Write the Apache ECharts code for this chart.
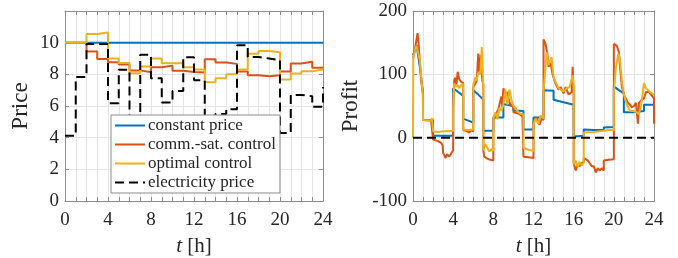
<!DOCTYPE html>
<html>
<head>
<meta charset="utf-8">
<script src="https://cdn.jsdelivr.net/npm/echarts@6/dist/echarts.min.js"></script>
<style>html,body{margin:0;padding:0;background:#fff;}#c{width:678px;height:258px;}</style>
</head>
<body>
<div id="c"></div>
<script>
// ---- Left panel: prices (hourly steps, last entry is the t=24 endpoint) ----
var hours = [0,1,2,3,4,5,6,7,8,9,10,11,12,13,14,15,16,17,18,19,20,21,22,23,24];
var constantPrice = [10,10,10,10,10,10,10,10,10,10,10,10,10,10,10,10,10,10,10,10,10,10,10,10,10];
var commSatPrice = [10,10,9.45,8.97,8.77,8.62,8.25,8.13,8.45,8.55,8.22,8.15,8.12,8.96,8.75,8.66,8.18,7.94,7.88,7.94,8.18,8.68,8.8,8.42,8.42];
var optimalPrice = [10,10,10.55,10.65,9.0,8.72,8.07,8.5,9.0,8.7,8.72,8.45,8.3,7.5,7.75,8.0,8.3,9.3,9.47,9.4,7.67,8.05,8.2,8.3,8.3];
var elecPrice = [4.12,7.83,9.92,9.92,6.17,8.29,5.0,9.23,7.75,6.22,6.94,9.08,7.63,5.3,5.5,5.8,9.84,9.1,9.0,8.9,4.3,6.7,6.62,5.96,7.2];

// ---- Right panel: profit ----
var constProfitT = [0,0.35,0.7,1, 1,2, 2,4, 4,4.5,5, 5,5.5,6, 6,6.5,7, 7,8, 8,9, 9,10, 10,11, 11,12, 12,13, 13,14, 14,15, 15,16, 16,17, 17,18, 18,19, 19,20, 20,20.5,21, 21,22, 22,23, 23,24];
var constProfitV = [130,146,110,70, 28,28, 3,3, 78,72,66, 30,27,24, 75,68,60, 11,11, 32,32, 53,50, 43,42, 13,13, 32,32, 75,74, 60,56, 54,52, 2,3, 13,12, 11,12, 16,17, 81,75,70, 40,40, 40,42, 52,52];
var commProfitT = [0,0.15,0.3,0.45,0.55,0.7,0.85,0.95,1.0, 1.0,1.8,1.95,2.0, 2.0,2.4,2.8,2.95,3.0,3.15,3.25,3.4,3.6,3.8,3.95,4.0, 4.0,4.1,4.2,4.3,4.45,4.6,4.8,5.0, 5.0,5.4,5.6,5.8,6.0, 6.0,6.2,6.35,6.5,6.6,6.75,6.9,7.0, 7.0,7.1,7.4,7.7,8.0, 8.0,8.3,8.5,8.8,8.9,9.0, 9.2,9.4,9.6,9.8,10.0, 10.0,10.5,10.9,11.0, 11.0,11.5,12.0, 12.0,12.3,12.6,12.8,13.0, 13.0,13.2,13.4,13.5,13.7,13.9,14.0, 14.2,14.5,14.7,15.0, 15.2,15.5,15.8,15.9,16.0, 16.0,16.2,16.4,16.6,16.8,17.0, 17.0,17.4,17.8,18.0, 18.2,18.4,18.6,18.8,19.0, 19.0,19.5,20.0, 20.0,20.3,20.5,20.6,20.8,21.0, 21.2,21.4,21.6,21.8,22.0, 22.2,22.4,22.5,22.8,23.0, 23.2,23.5,23.8,24.0,24.0];
var commProfitV = [125,135,150,165,150,115,85,75,70, 28,27,30,30, -3,-5,-8,-12,-24,-25,-32,-26,-30,-25,-22,-20, 45,90,95,80,104,92,88,86, 12,10,8,12,10, 80,85,90,133,100,130,90,85, -20,-30,-33,-35,-36, 30,38,45,65,48,78, 68,72,56,50,48, 40,38,34,34, -30,-31,-32, 25,32,20,30,28, 155,148,130,112,118,100,95, 85,76,80,70, 80,68,72,112,70, -40,-52,-42,-45,-40,-38, -32,-36,-45,-45, -55,-48,-52,-48,-52, -36,-35,-34, 148,145,135,115,80,68, 62,55,52,48,50, 55,22,55,60,62, 72,72,66,62,22];
var optProfitT = [0,0.03,0.2,0.35,0.5,0.7,0.85,0.97,1.0, 1.8,1.9,2.0, 2.0,2.5,3.0,3.5,4.0, 4.0,4.1,4.25,4.4,4.6,4.8,5.0, 5.0,5.5,6.0, 6.0,6.2,6.35,6.5,6.7,6.85,6.9,7.0, 7.0,7.2,7.4,7.6,7.8,8.0, 8.0,8.2,8.4,8.6,8.8,9.0, 9.2,9.4,9.6,9.8,10.0, 10.2,10.5,10.8,11.0, 11.0,11.5,12.0, 12.0,12.2,12.5,12.7,13.0, 13.0,13.2,13.3,13.5,13.8,14.0, 14.2,14.5,14.8,15.0, 15.3,15.6,15.9,16.0, 16.0,16.2,16.4,16.6,16.8,17.0, 17.0,18.0,19.0,19.5,20.0, 20.0,20.2,20.45,20.6,20.8,21.0, 21.3,21.6,22.0, 22.3,22.5,22.7,23.0, 23.2,23.6,24.0];
var optProfitV = [0,125,140,145,135,120,90,68,28, 27,31,30, 10,9,10,10,11, 47,86,80,84,78,83,85, 13,12,13, 83,95,90,104,100,143,125,78, -20,-10,-16,-22,-18,-21, 31,40,29,47,42,52, 76,52,76,60,50, 47,40,37,37, -16,-19,-21, 20,30,22,35,30, 73,110,135,115,127,95, 88,78,75,73, 78,80,99,78, -42,-36,-46,-38,-44,-40, 8,9,11,12,12, 70,110,133,125,90,68, 52,42,42, 40,37,50,86, 78,72,68];
var zeroLineT = [0,24];
var zeroLineV = [0,0];

var xTicks = [0,4,8,12,16,20,24];
var priceTicks = [0,2,4,6,8,10];
var profitTicks = [-100,0,100,200];

var FONT = 'Liberation Serif';
var TXT = '#262626';
var AX = '#8c8c8c';
var GRIDC = '#e6e6e6';
var BLUE = '#0072BD', ORANGE = '#D95319', YELLOW = '#EDB120';
var DASH = [9,5];

function pairs(xs, ys){ return xs.map(function(x,i){ return [x, ys[i]]; }); }

function xAxisDef(gi, pos, withLabels){
  return {
    type:'value', gridIndex:gi, position:pos, min:0, max:24, interval:1,
    name: withLabels ? '{it|t} [h]' : '', nameLocation:'middle', nameGap:35,
    nameTextStyle:{fontFamily:FONT, fontSize:21, color:TXT, rich:{it:{fontFamily:FONT, fontSize:21, fontStyle:'italic', color:TXT}}},
    axisLine:{show:true, onZero:false, lineStyle:{color:AX, width:1}},
    axisTick:{show:true, inside:true, length:4, lineStyle:{color:AX}},
    axisLabel:{show:withLabels, margin:10, fontFamily:FONT, fontSize:19, color:TXT,
      formatter:function(v){ return xTicks.indexOf(v) >= 0 ? String(v) : ''; }},
    splitLine:{show:withLabels, lineStyle:{color:GRIDC, width:1}}
  };
}
function yAxisDef(gi, pos, withLabels, mn, mx, iv, ticks, name, gap){
  return {
    type:'value', gridIndex:gi, position:pos, min:mn, max:mx, interval:iv,
    name: withLabels ? name : '', nameLocation:'middle', nameGap:gap,
    nameTextStyle:{fontFamily:FONT, fontSize:23, color:TXT},
    axisLine:{show:true, onZero:false, lineStyle:{color:AX, width:1}},
    axisTick:{show:true, inside:true, length:4, lineStyle:{color:AX}},
    axisLabel:{show:withLabels, margin:6, fontFamily:FONT, fontSize:19, color:TXT,
      formatter:function(v){ return ticks.indexOf(v) >= 0 ? String(v) : ''; }},
    splitLine:{show:withLabels, lineStyle:{color:GRIDC, width:1}}
  };
}

var chart = echarts.init(document.getElementById('c'), null, {renderer:'canvas'});
var lw = 2;
chart.setOption({
  animation:false,
  backgroundColor:'#fff',
  grid:[
    {left:65, right:355, top:11, bottom:57, containLabel:false, outerBoundsMode:'none'},
    {left:413, right:24, top:11, bottom:57, containLabel:false, outerBoundsMode:'none'}
  ],
  xAxis:[ xAxisDef(0,'bottom',true), xAxisDef(0,'top',false), xAxisDef(1,'bottom',true), xAxisDef(1,'top',false) ],
  yAxis:[
    yAxisDef(0,'left',true,0,12,2,priceTicks,'Price',33),
    yAxisDef(0,'right',false,0,12,2,priceTicks,'',0),
    yAxisDef(1,'left',true,-100,200,100,profitTicks,'Profit',51),
    yAxisDef(1,'right',false,-100,200,100,profitTicks,'',0)
  ],
  legend:{
    orient:'vertical', left:111, top:115,
    data:['constant price','comm.-sat. control','optimal control','electricity price'],
    itemWidth:30, itemHeight:14, itemGap:2,
    padding:[2,4,2,3],
    itemStyle:{opacity:0},
    backgroundColor:'#fff', borderColor:AX, borderWidth:1, borderRadius:0,
    textStyle:{fontFamily:FONT, fontSize:17, lineHeight:14, color:TXT, padding:[0,0,0,-2]}
  },
  series:[
    {name:'constant price', type:'line', step:'end', xAxisIndex:0, yAxisIndex:0, data:pairs(hours,constantPrice), symbol:'none', lineStyle:{color:BLUE, width:lw}, itemStyle:{color:BLUE}},
    {name:'comm.-sat. control', type:'line', step:'end', xAxisIndex:0, yAxisIndex:0, data:pairs(hours,commSatPrice), symbol:'none', lineStyle:{color:ORANGE, width:lw}, itemStyle:{color:ORANGE}},
    {name:'optimal control', type:'line', step:'end', xAxisIndex:0, yAxisIndex:0, data:pairs(hours,optimalPrice), symbol:'none', lineStyle:{color:YELLOW, width:lw}, itemStyle:{color:YELLOW}},
    {name:'electricity price', type:'line', step:'end', xAxisIndex:0, yAxisIndex:0, data:pairs(hours,elecPrice), symbol:'none', lineStyle:{color:'#000', width:lw, type:DASH}, itemStyle:{color:'#000'}},
    {name:'profit const', type:'line', xAxisIndex:2, yAxisIndex:2, data:pairs(constProfitT,constProfitV), symbol:'none', lineStyle:{color:BLUE, width:lw}},
    {name:'profit comm', type:'line', xAxisIndex:2, yAxisIndex:2, data:pairs(commProfitT,commProfitV), symbol:'none', lineStyle:{color:ORANGE, width:lw}},
    {name:'profit opt', type:'line', xAxisIndex:2, yAxisIndex:2, data:pairs(optProfitT,optProfitV), symbol:'none', lineStyle:{color:YELLOW, width:lw}},
    {name:'zero', type:'line', xAxisIndex:2, yAxisIndex:2, data:pairs(zeroLineT,zeroLineV), symbol:'none', lineStyle:{color:'#000', width:lw, type:DASH}}
  ]
});
</script>
</body>
</html>
